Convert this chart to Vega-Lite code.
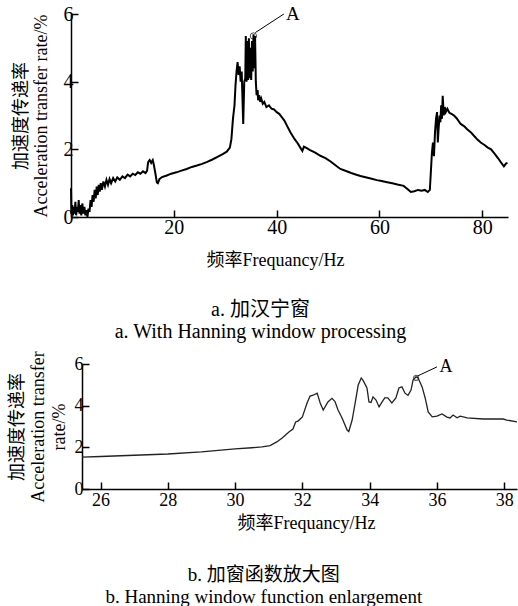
{
  "$schema": "https://vega.github.io/schema/vega-lite/v6.json",
  "background": "white",
  "padding": {"left": 8, "top": 4, "right": 0, "bottom": 0},
  "columns": 1,
  "align": "none",
  "spacing": 8,
  "config": {
    "font": "Liberation Serif, Noto Sans CJK SC, serif",
    "view": {"stroke": null},
    "axis": {
      "grid": false,
      "domainColor": "black",
      "tickColor": "black",
      "labelColor": "black",
      "titleColor": "black",
      "labelFont": "Liberation Serif, Noto Sans CJK SC, serif",
      "titleFont": "Liberation Serif, Noto Sans CJK SC, serif",
      "titleFontWeight": "normal",
      "domainWidth": 1.5,
      "tickWidth": 1.5,
      "tickSize": -7,
      "labelFlush": false
    },
    "title": {"font": "Liberation Serif, Noto Sans CJK SC, serif", "fontWeight": "normal", "color": "black"}
  },
  "concat": [
    {
      "width": 426,
      "height": 203,
      "title": {"text": ["a. 加汉宁窗", "a. With Hanning window processing"], "orient": "bottom", "frame": "bounds", "anchor": "middle", "fontSize": 20, "lineHeight": 22, "offset": 31, "dx": -5},
      "layer": [
        {
          "data": {"values": [
            {"f":0.0,"v":0.85},{"f":0.08,"v":0.1},{"f":0.25,"v":0.35},{"f":0.4,"v":0.05},{"f":0.55,"v":0.3},{"f":0.7,"v":0.1},{"f":0.85,"v":0.45},{"f":1.0,"v":0.05},{"f":1.2,"v":0.3},{"f":1.35,"v":0.15},{"f":1.5,"v":0.5},{"f":1.65,"v":0.1},{"f":1.8,"v":0.35},{"f":2.0,"v":0.05},{"f":2.2,"v":0.4},{"f":2.4,"v":0.1},{"f":2.6,"v":0.3},{"f":2.8,"v":0.05},{"f":3.0,"v":0.2},{"f":3.2,"v":0.0},{"f":3.4,"v":0.25},{"f":3.6,"v":0.15},{"f":3.8,"v":0.5},{"f":4.0,"v":0.3},{"f":4.2,"v":0.65},{"f":4.4,"v":0.45},{"f":4.6,"v":0.8},{"f":4.8,"v":0.55},{"f":5.0,"v":0.9},{"f":5.2,"v":0.65},{"f":5.4,"v":0.95},{"f":5.6,"v":0.75},{"f":5.8,"v":1.0},{"f":6.0,"v":0.8},{"f":6.3,"v":1.05},{"f":6.6,"v":0.9},{"f":6.9,"v":1.1},{"f":7.2,"v":0.95},{"f":7.5,"v":1.12},{"f":7.8,"v":1.0},{"f":8.2,"v":1.15},{"f":8.6,"v":1.05},{"f":9.0,"v":1.17},{"f":9.5,"v":1.1},{"f":10.0,"v":1.2},{"f":10.5,"v":1.15},{"f":11.0,"v":1.25},{"f":11.5,"v":1.2},{"f":12.0,"v":1.28},{"f":12.5,"v":1.24},{"f":13.0,"v":1.32},{"f":13.5,"v":1.28},{"f":14.0,"v":1.35},{"f":14.5,"v":1.3},{"f":14.8,"v":1.37},{"f":15.0,"v":1.62},{"f":15.3,"v":1.68},{"f":15.6,"v":1.6},{"f":15.9,"v":1.68},{"f":16.1,"v":1.55},{"f":16.4,"v":1.3},{"f":16.7,"v":1.02},{"f":16.9,"v":1.0},{"f":17.2,"v":1.12},{"f":17.7,"v":1.18},{"f":18.5,"v":1.22},{"f":19.5,"v":1.28},{"f":20.5,"v":1.32},{"f":21.5,"v":1.37},{"f":22.5,"v":1.42},{"f":23.5,"v":1.48},{"f":24.5,"v":1.52},{"f":25.5,"v":1.57},{"f":26.5,"v":1.63},{"f":27.5,"v":1.7},{"f":28.5,"v":1.78},{"f":29.5,"v":1.86},{"f":30.3,"v":1.93},{"f":30.9,"v":2.05},{"f":31.2,"v":2.3},{"f":31.5,"v":2.9},{"f":31.8,"v":3.3},{"f":32.0,"v":3.9},{"f":32.2,"v":4.3},{"f":32.4,"v":4.58},{"f":32.6,"v":4.2},{"f":32.8,"v":4.45},{"f":33.0,"v":4.0},{"f":33.2,"v":4.3},{"f":33.5,"v":2.75},{"f":33.7,"v":4.0},{"f":33.9,"v":4.1},{"f":34.0,"v":5.35},{"f":34.15,"v":4.0},{"f":34.3,"v":5.2},{"f":34.45,"v":4.05},{"f":34.6,"v":5.28},{"f":34.75,"v":4.1},{"f":34.9,"v":5.0},{"f":35.05,"v":4.05},{"f":35.2,"v":5.2},{"f":35.35,"v":4.3},{"f":35.5,"v":5.4},{"f":35.65,"v":4.4},{"f":35.8,"v":5.35},{"f":35.95,"v":4.0},{"f":36.1,"v":3.6},{"f":36.3,"v":3.75},{"f":36.4,"v":3.45},{"f":36.6,"v":3.6},{"f":36.8,"v":3.4},{"f":37.0,"v":3.5},{"f":37.3,"v":3.35},{"f":37.6,"v":3.4},{"f":38.0,"v":3.25},{"f":38.5,"v":3.3},{"f":39.0,"v":3.2},{"f":39.5,"v":3.18},{"f":40.0,"v":3.1},{"f":40.5,"v":3.05},{"f":41.0,"v":2.95},{"f":41.5,"v":2.85},{"f":42.0,"v":2.7},{"f":42.7,"v":2.5},{"f":43.5,"v":2.3},{"f":44.0,"v":2.2},{"f":44.6,"v":2.05},{"f":45.0,"v":1.95},{"f":45.3,"v":2.08},{"f":45.7,"v":2.05},{"f":46.5,"v":1.98},{"f":47.5,"v":1.9},{"f":48.5,"v":1.81},{"f":49.5,"v":1.74},{"f":50.5,"v":1.64},{"f":51.5,"v":1.52},{"f":52.4,"v":1.42},{"f":53.5,"v":1.36},{"f":54.5,"v":1.3},{"f":55.5,"v":1.25},{"f":56.3,"v":1.21},{"f":57.5,"v":1.17},{"f":58.5,"v":1.13},{"f":59.5,"v":1.09},{"f":60.2,"v":1.07},{"f":61.5,"v":1.03},{"f":62.5,"v":1.0},{"f":63.5,"v":0.96},{"f":64.7,"v":0.92},{"f":65.5,"v":0.82},{"f":66.1,"v":0.74},{"f":66.8,"v":0.76},{"f":67.5,"v":0.8},{"f":68.2,"v":0.78},{"f":68.8,"v":0.8},{"f":69.4,"v":0.74},{"f":69.8,"v":0.8},{"f":70.0,"v":1.35},{"f":70.2,"v":1.9},{"f":70.4,"v":2.2},{"f":70.6,"v":1.8},{"f":70.8,"v":2.5},{"f":71.0,"v":2.9},{"f":71.2,"v":3.1},{"f":71.35,"v":2.2},{"f":71.5,"v":2.6},{"f":71.7,"v":3.0},{"f":71.85,"v":2.8},{"f":72.0,"v":3.3},{"f":72.15,"v":2.9},{"f":72.3,"v":3.58},{"f":72.5,"v":3.0},{"f":72.7,"v":3.25},{"f":72.9,"v":3.1},{"f":73.2,"v":3.2},{"f":73.6,"v":3.08},{"f":74.0,"v":3.05},{"f":74.5,"v":3.0},{"f":75.0,"v":2.92},{"f":75.8,"v":2.75},{"f":76.5,"v":2.68},{"f":77.0,"v":2.6},{"f":77.8,"v":2.5},{"f":78.5,"v":2.38},{"f":79.0,"v":2.3},{"f":79.7,"v":2.2},{"f":80.5,"v":2.12},{"f":81.0,"v":2.06},{"f":81.7,"v":2.0},{"f":82.5,"v":1.85},{"f":83.0,"v":1.75},{"f":83.6,"v":1.62},{"f":84.2,"v":1.5},{"f":84.6,"v":1.58},{"f":84.9,"v":1.6}
          ]},
          "mark": {"type": "line", "color": "black", "strokeWidth": 2},
          "encoding": {
            "x": {"field": "f", "type": "quantitative", "scale": {"domain": [0, 85], "nice": false, "zero": false, "range": [-11, 426]},
              "axis": {"values": [20, 40, 60, 80], "title": "频率Frequancy/Hz", "titleFontSize": 18, "labelFontSize": 20, "labelPadding": 7, "titleX": 193, "titleY": 34}},
            "y": {"field": "v", "type": "quantitative", "scale": {"domain": [0, 6], "nice": false},
              "axis": {"values": [0, 2, 4, 6], "offset": 11, "title": ["加速度传递率", "Acceleration transfer rate/%"], "titleFontSize": 18, "titleLineHeight": 20, "labelFontSize": 20, "labelPadding": 5, "titlePadding": 13}}
          }
        },
        {
          "data": {"values": [{"f": 35.48, "v": 5.35}]},
          "mark": {"type": "point", "shape": "circle", "size": 40, "color": "black", "filled": false, "strokeWidth": 1},
          "encoding": {"x": {"field": "f", "type": "quantitative"}, "y": {"field": "v", "type": "quantitative"}}
        },
        {
          "data": {"values": [{"f": 35.85, "v": 5.45}, {"f": 41.4, "v": 6.0}]},
          "mark": {"type": "line", "color": "black", "strokeWidth": 1},
          "encoding": {"x": {"field": "f", "type": "quantitative"}, "y": {"field": "v", "type": "quantitative"}}
        },
        {
          "data": {"values": [{"f": 41.8, "v": 6.0, "t": "A"}]},
          "mark": {"type": "text", "align": "left", "baseline": "middle", "fontSize": 19, "color": "black"},
          "encoding": {"x": {"field": "f", "type": "quantitative"}, "y": {"field": "v", "type": "quantitative"}, "text": {"field": "t"}}
        }
      ]
    },
    {
      "width": 435,
      "height": 125,
      "title": {"text": ["b. 加窗函数放大图", "b. Hanning window function enlargement"], "orient": "bottom", "frame": "bounds", "anchor": "middle", "fontSize": 19, "lineHeight": 22, "offset": 34},
      "layer": [
        {
          "data": {"values": [
            {"f":25.45,"v":1.53},{"f":26.0,"v":1.56},{"f":27.0,"v":1.62},{"f":28.0,"v":1.68},{"f":29.0,"v":1.78},{"f":30.0,"v":1.93},{"f":30.5,"v":1.98},{"f":30.8,"v":2.02},{"f":31.04,"v":2.08},{"f":31.24,"v":2.26},{"f":31.4,"v":2.45},{"f":31.6,"v":2.74},{"f":31.72,"v":2.88},{"f":31.8,"v":3.22},{"f":31.87,"v":3.26},{"f":32.0,"v":3.46},{"f":32.14,"v":4.13},{"f":32.23,"v":4.46},{"f":32.32,"v":4.5},{"f":32.44,"v":4.6},{"f":32.53,"v":4.13},{"f":32.62,"v":3.79},{"f":32.76,"v":4.18},{"f":32.88,"v":4.35},{"f":32.97,"v":4.2},{"f":33.06,"v":3.79},{"f":33.18,"v":3.41},{"f":33.33,"v":2.83},{"f":33.38,"v":2.76},{"f":33.48,"v":3.31},{"f":33.57,"v":4.13},{"f":33.66,"v":4.99},{"f":33.75,"v":5.33},{"f":33.81,"v":5.2},{"f":33.92,"v":4.85},{"f":33.98,"v":4.18},{"f":34.04,"v":4.15},{"f":34.1,"v":4.42},{"f":34.19,"v":4.27},{"f":34.28,"v":3.94},{"f":34.37,"v":4.18},{"f":34.45,"v":4.37},{"f":34.54,"v":4.37},{"f":34.66,"v":4.13},{"f":34.78,"v":4.37},{"f":34.87,"v":4.85},{"f":34.96,"v":4.9},{"f":35.05,"v":4.6},{"f":35.14,"v":4.5},{"f":35.23,"v":4.75},{"f":35.29,"v":5.23},{"f":35.38,"v":5.38},{"f":35.44,"v":5.33},{"f":35.56,"v":4.9},{"f":35.65,"v":4.37},{"f":35.74,"v":3.7},{"f":35.86,"v":3.46},{"f":36.0,"v":3.5},{"f":36.15,"v":3.6},{"f":36.3,"v":3.45},{"f":36.39,"v":3.41},{"f":36.48,"v":3.55},{"f":36.6,"v":3.42},{"f":36.69,"v":3.5},{"f":36.9,"v":3.41},{"f":37.37,"v":3.36},{"f":37.97,"v":3.36},{"f":38.08,"v":3.31},{"f":38.38,"v":3.22}
          ]},
          "mark": {"type": "line", "color": "#222222", "strokeWidth": 1.3},
          "encoding": {
            "x": {"field": "f", "type": "quantitative", "scale": {"domain": [25.45, 38.38], "nice": false, "zero": false},
              "axis": {"values": [26, 28, 30, 32, 34, 36, 38], "title": "频率Frequancy/Hz", "titleFontSize": 18, "labelFontSize": 18, "labelPadding": 9, "titleX": 224, "titleY": 25}},
            "y": {"field": "v", "type": "quantitative", "scale": {"domain": [0, 6], "nice": false},
              "axis": {"values": [0, 2, 4, 6], "title": ["加速度传递率", "Acceleration transfer", "rate/%"], "titleFontSize": 18, "titleLineHeight": 21, "labelFontSize": 18, "labelPadding": 6, "titlePadding": 6}}
          }
        },
        {
          "data": {"values": [{"f": 35.38, "v": 5.33}]},
          "mark": {"type": "point", "shape": "circle", "size": 25, "color": "#222222", "filled": false, "strokeWidth": 1.2},
          "encoding": {"x": {"field": "f", "type": "quantitative"}, "y": {"field": "v", "type": "quantitative"}}
        },
        {
          "data": {"values": [{"f": 35.42, "v": 5.42}, {"f": 36.0, "v": 5.86}]},
          "mark": {"type": "line", "color": "black", "strokeWidth": 1},
          "encoding": {"x": {"field": "f", "type": "quantitative"}, "y": {"field": "v", "type": "quantitative"}}
        },
        {
          "data": {"values": [{"f": 36.08, "v": 5.86, "t": "A"}]},
          "mark": {"type": "text", "align": "left", "baseline": "middle", "fontSize": 18, "color": "black"},
          "encoding": {"x": {"field": "f", "type": "quantitative"}, "y": {"field": "v", "type": "quantitative"}, "text": {"field": "t"}}
        }
      ]
    }
  ]
}
